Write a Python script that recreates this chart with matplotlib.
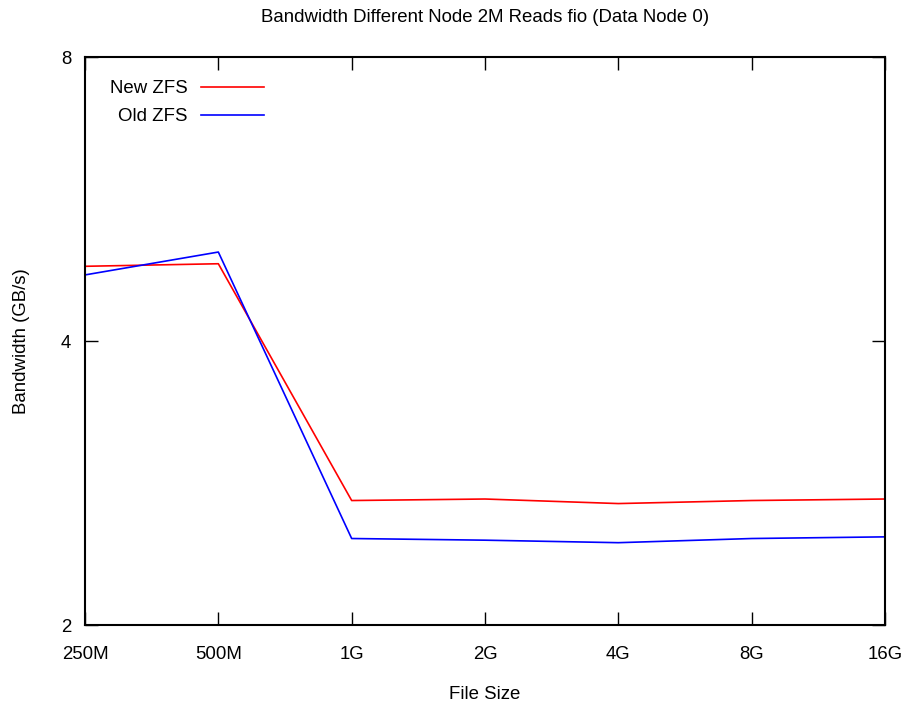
import matplotlib
matplotlib.use("Agg")
import matplotlib.pyplot as plt
from matplotlib.ticker import FixedLocator, FixedFormatter, NullLocator

plt.rcParams['font.family'] = ['Liberation Sans', 'DejaVu Sans']

file_sizes = ["250M", "500M", "1G", "2G", "4G", "8G", "16G"]
new_zfs = [4.80, 4.83, 2.71, 2.72, 2.69, 2.71, 2.72]
old_zfs = [4.70, 4.97, 2.47, 2.46, 2.445, 2.47, 2.48]
y_ticks = [2, 4, 8]

FS = 13.4

fig = plt.figure(figsize=(9.06, 7.04), dpi=100)
ax = fig.add_axes([85/906, 79/704, 800/906, 568/704])

x = list(range(len(file_sizes)))
ax.plot(x, new_zfs, color="#ff0000", lw=1.2, label="New ZFS")
ax.plot(x, old_zfs, color="#0000ff", lw=1.2, label="Old ZFS")

ax.set_yscale("log", base=2)
ax.set_ylim(2, 8)
ax.set_xlim(0, len(file_sizes) - 1)
ax.yaxis.set_major_locator(FixedLocator(y_ticks))
ax.yaxis.set_major_formatter(FixedFormatter([str(v) for v in y_ticks]))
ax.yaxis.set_minor_locator(NullLocator())
ax.set_xticks(x)
ax.set_xticklabels(file_sizes)

ax.tick_params(axis="both", which="major", direction="in", length=9.5, width=1.0,
               top=True, right=True, labelsize=FS)
ax.tick_params(axis="x", pad=15)
ax.tick_params(axis="y", pad=10)
for s in ax.spines.values():
    s.set_linewidth(1.5)

ax.set_xlabel("File Size", fontsize=FS, labelpad=17)
ax.set_ylabel("Bandwidth (GB/s)", fontsize=FS, labelpad=22)
ax.set_title("Bandwidth Different Node 2M Reads fio (Data Node 0)", fontsize=FS, pad=25)

ax.legend(loc="upper left", frameon=False, markerfirst=False, fontsize=FS,
          handlelength=3.4, handletextpad=0.7, bbox_to_anchor=(0.01, 0.989),
          labelspacing=0.6)

fig.savefig("out.png", dpi=100)
